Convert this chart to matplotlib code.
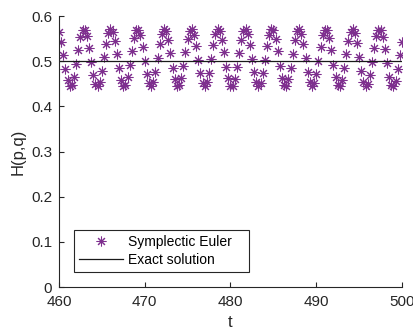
import numpy as np
import matplotlib
matplotlib.use('Agg')
import matplotlib.pyplot as plt

plt.rcParams['font.family'] = ['Liberation Sans', 'DejaVu Sans']

# time samples (step 0.25 from 460 to 500)
t_start, t_end, t_step = 460.0, 500.0, 0.25
t = np.linspace(t_start, t_end, int(round((t_end - t_start) / t_step)) + 1)

# energy of the symplectic Euler solution
H_symplectic = [
    0.564, 0.543, 0.513, 0.482, 0.458, 0.445, 0.448, 0.466, 0.494, 0.525,
    0.553, 0.569, 0.570, 0.556, 0.530, 0.499, 0.470, 0.450, 0.445, 0.455,
    0.478, 0.509, 0.539, 0.562, 0.571, 0.565, 0.545, 0.516, 0.484, 0.459,
    0.446, 0.448, 0.464, 0.492, 0.523, 0.551, 0.568, 0.570, 0.557, 0.532,
    0.501, 0.471, 0.451, 0.445, 0.454, 0.476, 0.507, 0.537, 0.561, 0.571,
    0.566, 0.547, 0.518, 0.486, 0.460, 0.446, 0.447, 0.463, 0.490, 0.521,
    0.550, 0.567, 0.571, 0.559, 0.534, 0.503, 0.473, 0.452, 0.444, 0.453,
    0.474, 0.504, 0.535, 0.560, 0.571, 0.567, 0.548, 0.520, 0.488, 0.462,
    0.446, 0.446, 0.461, 0.488, 0.519, 0.548, 0.567, 0.571, 0.560, 0.536,
    0.505, 0.475, 0.453, 0.444, 0.452, 0.473, 0.502, 0.533, 0.558, 0.571,
    0.568, 0.550, 0.522, 0.490, 0.463, 0.447, 0.446, 0.460, 0.486, 0.517,
    0.546, 0.566, 0.571, 0.561, 0.538, 0.507, 0.477, 0.454, 0.445, 0.451,
    0.471, 0.500, 0.531, 0.557, 0.570, 0.568, 0.552, 0.524, 0.492, 0.465,
    0.448, 0.445, 0.459, 0.484, 0.515, 0.544, 0.565, 0.571, 0.562, 0.540,
    0.509, 0.479, 0.455, 0.445, 0.450, 0.469, 0.498, 0.529, 0.556, 0.570,
    0.569, 0.553, 0.526, 0.495, 0.466, 0.448, 0.445, 0.457, 0.482, 0.513,
    0.543,
]
H_exact_t = [460, 500]
H_exact = [0.5, 0.5]

x_ticks = [460, 470, 480, 490, 500]
y_ticks = [0, 0.1, 0.2, 0.3, 0.4, 0.5, 0.6]
y_ticklabels = ['0', '0.1', '0.2', '0.3', '0.4', '0.5', '0.6']

fig = plt.figure(figsize=(4.14, 3.36), dpi=100)
ax = fig.add_axes([0.1425, 0.1458, 0.8285, 0.8065])
ax.plot(t, H_symplectic, ls='none', marker=(8, 2, 0), color='#7E2F8E',
        ms=7, mew=0.75, label='Symplectic Euler')
ax.plot(H_exact_t, H_exact, color='#1a1a1a', lw=0.9, label='Exact solution')

ax.set_xlim(460, 500)
ax.set_ylim(0, 0.6)
ax.set_xticks(x_ticks)
ax.set_yticks(y_ticks)
ax.set_yticklabels(y_ticklabels)
for s in ['top', 'right']:
    ax.spines[s].set_visible(False)
for s in ['left', 'bottom']:
    ax.spines[s].set_color('#262626')
    ax.spines[s].set_linewidth(0.8)
ax.tick_params(direction='in', length=3.5, width=0.8, colors='#262626',
               labelsize=11, pad=5)
ax.tick_params(axis='x', pad=6)
ax.set_xlabel('t', fontsize=12, color='#262626', labelpad=4)
ax.set_ylabel('H(p,q)', fontsize=12, color='#262626', labelpad=4)

leg = ax.legend(loc='lower left', bbox_to_anchor=(0.0437, 0.055, 0.51, 0.152),
                mode='expand', fontsize=10, frameon=True, fancybox=False,
                edgecolor='#262626', framealpha=1, borderpad=0.35,
                handlelength=3.2, handletextpad=0.35, labelspacing=0.3,
                borderaxespad=0)
leg.get_frame().set_linewidth(0.8)

fig.savefig('out.png')
